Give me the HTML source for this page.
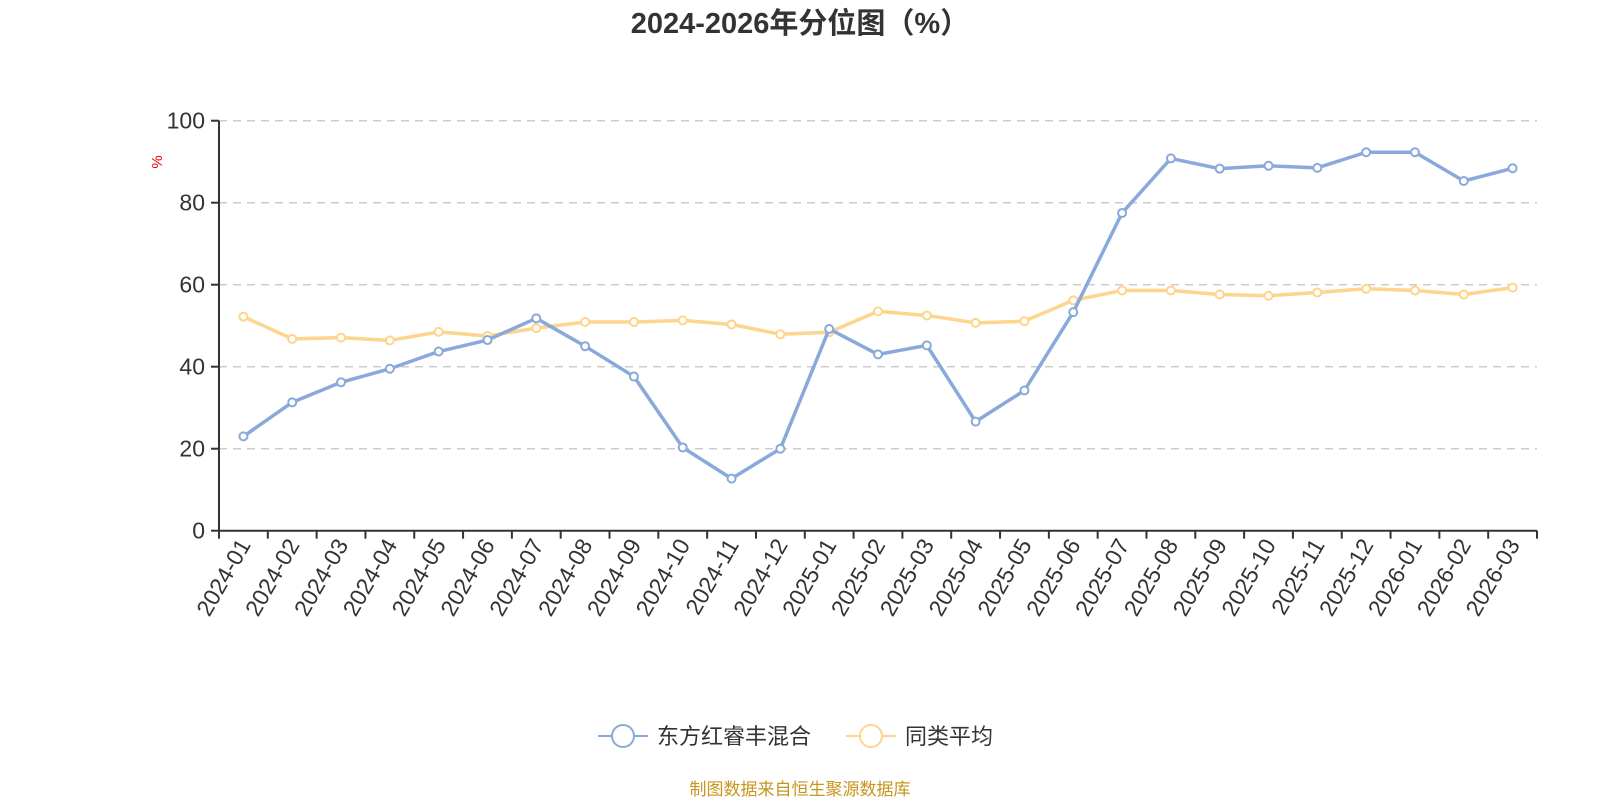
<!DOCTYPE html>
<html><head><meta charset="utf-8"><style>
html,body{margin:0;padding:0;background:#fff;}
svg{display:block;font-family:"Liberation Sans","Noto Sans CJK SC",sans-serif;}
</style></head><body>
<svg id="c" width="1600" height="800" xmlns="http://www.w3.org/2000/svg"></svg>
<script>
const s=document.getElementById('c');
const X0=219,X1=1537,Y0=530.7,Y100=120.7;
const b=[23,31.3,36.2,39.5,43.7,46.5,51.8,45,37.6,20.3,12.7,20,49.2,43,45.2,26.6,34.2,53.3,77.5,90.8,88.3,89,88.5,92.3,92.3,85.3,88.4];
const y=[52.2,46.8,47.1,46.4,48.5,47.5,49.4,50.9,50.9,51.3,50.3,47.9,48.4,53.5,52.5,50.7,51.1,56.2,58.6,58.6,57.6,57.3,58.1,59,58.6,57.6,59.3];
const labs=[];for(let yr=2024;yr<=2026;yr++)for(let m=1;m<=12;m++){labs.push(yr+'-'+String(m).padStart(2,'0'));}
const L=labs.slice(0,27);
const n=27,w=(X1-X0)/n;
const px=i=>X0+w*(i+0.5), py=v=>Y0-(Y0-Y100)*v/100;
let h='';
h+=`<text x="800" y="33" text-anchor="middle" font-size="29" font-weight="bold" fill="#333">2024-2026年分位图（%）</text>`;
for(let k=0;k<=5;k++){const yy=py(k*20);
 if(k>0)h+=`<line x1="${X0}" x2="${X1}" y1="${yy}" y2="${yy}" stroke="#ccc" stroke-width="1.5" stroke-dasharray="8,6"/>`;
 h+=`<line x1="${X0-8}" x2="${X0}" y1="${yy}" y2="${yy}" stroke="#333" stroke-width="2"/>`;
 h+=`<text x="${X0-14}" y="${yy+8}" text-anchor="end" font-size="23" fill="#333">${k*20}</text>`;}
h+=`<text transform="translate(162,162) rotate(-90)" text-anchor="middle" font-size="15" fill="#e00">%</text>`;
h+=`<line x1="${X0}" x2="${X0}" y1="${Y100}" y2="${Y0}" stroke="#333" stroke-width="2"/>`;
h+=`<line x1="${X0}" x2="${X1}" y1="${Y0}" y2="${Y0}" stroke="#333" stroke-width="2"/>`;
for(let i=0;i<=n;i++){const xx=X0+w*i;h+=`<line x1="${xx}" x2="${xx}" y1="${Y0}" y2="${Y0+8}" stroke="#333" stroke-width="2"/>`;}
L.forEach((t,i)=>{const xx=px(i)+8;h+=`<text transform="translate(${xx},${Y0+14}) rotate(-60)" text-anchor="end" font-size="23" fill="#333">${t}</text>`;});
function ser(d,c){let p=d.map((v,i)=>`${px(i)},${py(v)}`).join(' ');
 let r=`<polyline points="${p}" fill="none" stroke="${c}" stroke-width="3.5" stroke-linejoin="round"/>`;
 d.forEach((v,i)=>{r+=`<circle cx="${px(i)}" cy="${py(v)}" r="4" fill="#fff" stroke="${c}" stroke-width="2"/>`;});return r;}
h+=ser(y,'#fdd58c');h+=ser(b,'#8aa9db');
h+=`<line x1="598" x2="648" y1="736" y2="736" stroke="#8aa9db" stroke-width="2"/><circle cx="623" cy="736" r="11" fill="#fff" stroke="#8aa9db" stroke-width="2"/>`;
h+=`<text x="657" y="744" font-size="22" fill="#333">东方红睿丰混合</text>`;
h+=`<line x1="846" x2="896" y1="736" y2="736" stroke="#fdd58c" stroke-width="2"/><circle cx="871" cy="736" r="11" fill="#fff" stroke="#fdd58c" stroke-width="2"/>`;
h+=`<text x="905" y="744" font-size="22" fill="#333">同类平均</text>`;
h+=`<text x="800" y="795" text-anchor="middle" font-size="17" fill="#c8951e">制图数据来自恒生聚源数据库</text>`;
s.innerHTML=h;
</script>
</body></html>
